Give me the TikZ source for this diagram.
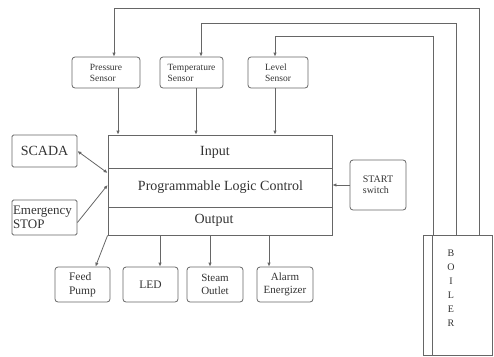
\documentclass[tikz,border=0pt]{standalone}
\usepackage{fontspec}
\setmainfont{Liberation Serif}
\usetikzlibrary{arrows.meta}
\begin{document}
\begin{tikzpicture}[x=1pt,y=-1pt,
  line width=0.8pt,
  every node/.style={inner sep=0pt, text=black!80},
  box/.style={draw=black!60, rounded corners=3pt, align=left},
  sbox/.style={draw=black!60, rounded corners=1.5pt, align=left},
  arr/.style={draw=black!60, -{Latex[length=4pt,width=3.5pt]}},
  arr2/.style={draw=black!60, {Latex[length=4pt,width=3.5pt]}-{Latex[length=4pt,width=3.5pt]}},
  ln/.style={draw=black!60}]
\useasboundingbox (0,0) rectangle (494,356);
% sensors
\node[box, minimum width=68pt, minimum height=31pt, font=\fontsize{9.5}{11}\selectfont] (pres) at (106,72.5) {Pressure\\Sensor};
\node[box, minimum width=63pt, minimum height=31pt, font=\fontsize{9.5}{11}\selectfont] (temp) at (191.5,72.5) {Temperature\\Sensor};
\node[box, minimum width=60pt, minimum height=31pt, font=\fontsize{9.5}{11}\selectfont] (level) at (278,72.5) {Level\\Sensor};
% PLC
\node[draw=black!60, minimum width=224pt, minimum height=100pt] (plc) at (220,185) {};
\coordinate (d1l) at (108,168); \coordinate (d1r) at (332,168);
\coordinate (d2l) at (108,207); \coordinate (d2r) at (332,207);
\draw[ln] (d1l) -- (d1r);
\draw[ln] (d2l) -- (d2r);
\node[font=\fontsize{14}{16}\selectfont] (inp) at (215,152) {Input};
\node (plct) at (220.5,187) {\resizebox{165pt}{!}{\fontsize{14}{16}\selectfont Programmable Logic Control}};
\node[font=\fontsize{14}{16}\selectfont] (outp) at (214,220) {Output};
% side boxes
\node[sbox, minimum width=65pt, minimum height=32pt, font=\fontsize{14}{16}\selectfont] (scada) at (44.5,151) {SCADA};
\node[sbox, minimum width=65pt, minimum height=35pt, font=\fontsize{13}{14}\selectfont, align=left, text width=63pt] (emer) at (44.5,217.5) {Emergency\\STOP};
\node[box, minimum width=56pt, minimum height=50pt, font=\fontsize{10}{11}\selectfont] (start) at (378,185) {START\\switch};
% outputs
\node[box, minimum width=55pt, minimum height=35pt, font=\fontsize{11.5}{14}\selectfont] (feed) at (82.5,284.5) {Feed\\Pump};
\node[box, minimum width=55pt, minimum height=35pt, font=\fontsize{11.5}{14}\selectfont] (led) at (150.5,284.5) {LED};
\node[box, minimum width=56pt, minimum height=35pt, font=\fontsize{11}{13}\selectfont, align=center] (steam) at (215,284.5) {Steam\\Outlet};
\node[box, minimum width=56pt, minimum height=35pt, font=\fontsize{11}{13}\selectfont, align=center] (alarm) at (285,284.5) {Alarm\\Energizer};
% boiler
\node[draw=black!60, minimum width=69pt, minimum height=120pt] (boiler) at (457.5,295) {};
\coordinate (bi1) at (432,235); \coordinate (bi2) at (432,355);
\draw[ln] (bi1) -- (bi2);
\node[font=\fontsize{10}{14}\selectfont, align=center] (blabel) at (451,288) {B\\O\\I\\L\\E\\R};
% boiler to sensors
\coordinate (b1) at (433,235); \coordinate (b2) at (456,235); \coordinate (b3) at (479,235);
\coordinate (c1) at (433,36); \coordinate (c2) at (456,23); \coordinate (c3) at (479,8);
\draw[arr] (b1) -- (c1) -| ([xshift=-3pt]level.north);
\draw[arr] (b2) -- (c2) -| ([xshift=9.5pt]temp.north);
\draw[arr] (b3) -- (c3) -| ([xshift=8pt]pres.north);
% sensors to plc
\draw[arr] ([xshift=12pt]pres.south) -- ([xshift=12pt]pres.south |- plc.north);
\draw[arr] ([xshift=4.5pt]temp.south) -- ([xshift=4.5pt]temp.south |- plc.north);
\draw[arr] ([xshift=-3pt]level.south) -- ([xshift=-3pt]level.south |- plc.north);
% side connections
\draw[arr2] (scada.east) -- ([yshift=12pt]plc.west);
\draw[arr] ([yshift=-5pt]emer.east) -- (plc.west);
\draw[arr] (start.west) -- (plc.east);
% outputs
\draw[arr] (plc.south west) -- ([xshift=13pt]feed.north);
\draw[arr] ([xshift=9.5pt]led.north |- plc.south) -- ([xshift=9.5pt]led.north);
\draw[arr] ([xshift=-5pt]steam.north |- plc.south) -- ([xshift=-5pt]steam.north);
\draw[arr] ([xshift=-16pt]alarm.north |- plc.south) -- ([xshift=-16pt]alarm.north);
\end{tikzpicture}
\end{document}
